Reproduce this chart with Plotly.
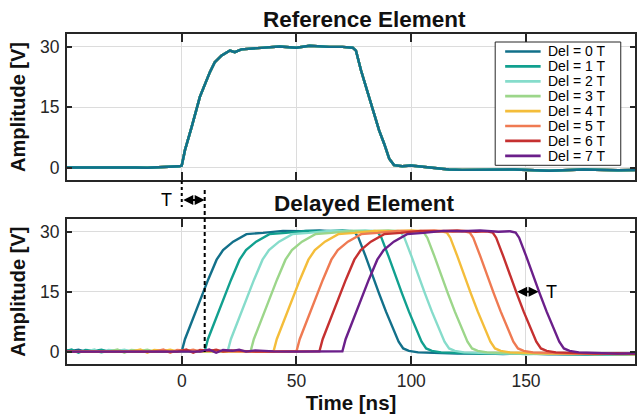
import plotly.graph_objects as go

# ---------------- data ----------------
series_labels = ["Del = 0 T", "Del = 1 T", "Del = 2 T", "Del = 3 T",
                 "Del = 4 T", "Del = 5 T", "Del = 6 T", "Del = 7 T"]
series_colors = ["#12708a", "#11a08f", "#86dccb", "#9cd68a",
                 "#f4bd3a", "#ef7a52", "#c53030", "#6b1f8a"]
delays_ns = [0, 10, 20, 30, 40, 50, 60, 70]

# reference element waveform (time ns, amplitude V)
ref_t = [-50, -40, -30, -20, -15, -10, -5, -1, 0, 1.4, 4.3, 7.9, 10.8, 12.3, 14.4, 17.4,
         21, 23.1, 26, 32.5, 42.6, 49.9, 55.7, 64.3, 70, 74.5, 75.9, 78.1, 80.3, 83.1,
         86, 88.2, 90.4, 92.5, 96.1, 99.8, 107.7, 116.4, 122.2, 133.8, 145, 160, 175,
         190, 200]
ref_amp = [0.0, 0.05, 0.05, 0.0, -0.05, 0.05, 0.1, 0.3, 0.5, 4.3, 10.0, 17.5, 21.6, 23.7,
           26.1, 27.8, 29.0, 28.6, 29.3, 29.6, 30.0, 29.7, 30.2, 29.9, 29.9, 29.7, 29.0,
           24.1, 20.0, 15.0, 9.2, 5.9, 2.2, 0.6, 0.3, 0.5, 0.0, -0.5, -0.6, -0.6, -0.5,
           -0.8, -0.5, -0.7, -0.6]

# delayed element waveform for zero delay (time ns, amplitude V)
del_t = [-120, -100, -80, -62, -58, -55, -52, -48, -45, -42, -38, -30, -20, -10, -3, 0,
         1.4, 3.6, 6.5, 8.7, 11.5, 15.2, 18, 22.4, 28.2, 35.4, 44.1, 52, 60, 68, 73,
         75.5, 77, 80, 83, 86, 89, 92, 94.5, 96.5, 99, 103, 110, 120, 130, 140, 150,
         160, 170, 180, 190, 200]
del_amp = [0.0, 0.05, -0.05, 0.0, 0.5, -0.3, 0.4, 0.2, 0.5, 0.0, 0.3, 0.05, 0.0, 0.05,
           0.0, 0.1, 3.1, 6.4, 10.5, 13.8, 18.0, 23.0, 25.4, 27.5, 29.4, 29.7, 30.2, 30.1,
           30.3, 30.0, 30.1, 29.8, 28.5, 24.0, 19.0, 14.5, 10.0, 6.0, 2.5, 0.8, 0.2,
           -0.2, -0.3, -0.5, -0.4, -0.6, -0.5, -0.7, -0.6, -0.8, -0.7, -0.8]

x_ticks = [0, 50, 100, 150]
y_ticks = [0, 15, 30]
x_range = [-50, 197.5]
y_range = [-3.1, 33.1]

# ---------------- layout helpers ----------------
W, H = 639, 416
ML, MR, MT, MB = 67, 2, 34, 52
PW, PH = W - ML - MR, H - MT - MB
FONT = "Liberation Sans, Arial, sans-serif"
INK = "#262626"


def px(X):
    return (X - ML) / PW


def py(Y):
    return (H - MB - Y) / PH


fig = go.Figure()

# top panel: reference element (drawn so Del = 0 ends on top)
for i in reversed(range(len(series_labels))):
    fig.add_trace(go.Scatter(x=ref_t, y=ref_amp, mode="lines", name=series_labels[i],
                             line=dict(color=series_colors[i], width=2.4),
                             xaxis="x", yaxis="y", showlegend=False))

# bottom panel: delayed element
for i in range(len(series_labels)):
    fig.add_trace(go.Scatter(x=[t + delays_ns[i] for t in del_t], y=del_amp, mode="lines",
                             name=series_labels[i],
                             line=dict(color=series_colors[i], width=2.4),
                             xaxis="x2", yaxis="y2", showlegend=False))

axis_common = dict(showline=True, linecolor=INK, linewidth=2, mirror="allticks",
                   ticks="inside", tickcolor=INK, tickwidth=1.5, showgrid=True,
                   gridcolor="#dcdcdc", gridwidth=1, zeroline=False,
                   tickfont=dict(family=FONT, size=17.5, color=INK))

ytitle_font = dict(family=FONT, size=20, color="#111111")
xtitle_font = dict(family=FONT, size=20.5, color="#111111")

fig.update_layout(
    width=W, height=H, margin=dict(l=ML, r=MR, t=MT, b=MB),
    paper_bgcolor="white", plot_bgcolor="white", showlegend=False,
    xaxis=dict(axis_common, range=x_range, tickvals=x_ticks, ticklen=8, domain=[0, 1],
               anchor="y", showticklabels=False),
    yaxis=dict(axis_common, range=y_range, tickvals=y_ticks, ticklen=5,
               domain=[py(180), 1], anchor="x", ticklabelstandoff=2,
               title=dict(text="<b>Amplitude [V]</b>", font=ytitle_font, standoff=9)),
    xaxis2=dict(axis_common, range=x_range, tickvals=x_ticks, ticklen=8, domain=[0, 1],
                anchor="y2",
                title=dict(text="<b>Time [ns]</b>", font=xtitle_font, standoff=3)),
    yaxis2=dict(axis_common, range=y_range, tickvals=y_ticks, ticklen=5,
                domain=[0, py(219.3)], anchor="x2", ticklabelstandoff=2,
                title=dict(text="<b>Amplitude [V]</b>", font=ytitle_font, standoff=9)),
)

annotations = []
shapes = []

# panel titles
annotations.append(dict(text="<b>Reference Element</b>", xref="paper", yref="paper",
                        x=px(366), y=py(19.5), xanchor="center", yanchor="middle",
                        showarrow=False, font=dict(family=FONT, size=22.5, color="#111111")))
annotations.append(dict(text="<b>Delayed Element</b>", xref="paper", yref="paper",
                        x=px(366), y=py(203), xanchor="center", yanchor="middle",
                        showarrow=False, font=dict(family=FONT, size=22.5, color="#111111")))

# T markers between panels
shapes.append(dict(type="line", xref="x2", yref="paper", x0=0, x1=0,
                   y0=py(181), y1=py(207), line=dict(color="black", width=2, dash="3px,3px")))
shapes.append(dict(type="line", xref="x2", yref="paper", x0=delays_ns[1], x1=delays_ns[1],
                   y0=py(190), y1=py(352), line=dict(color="black", width=2, dash="4px,3px")))
annotations.append(dict(text="", xref="x2", yref="paper", x=delays_ns[1], y=py(200),
                        axref="x2", ax=0, ayref="pixel", ay=0, showarrow=True,
                        arrowhead=2, arrowside="end+start", arrowsize=1, arrowwidth=2,
                        arrowcolor="black", standoff=0, startstandoff=0))
annotations.append(dict(text="T", xref="x2", yref="paper", x=-6.5, y=py(200),
                        xanchor="center", yanchor="middle", showarrow=False,
                        font=dict(family=FONT, size=18, color="black")))

# T marker on falling edges
annotations.append(dict(text="", xref="x2", yref="y2", x=155.5, y=15,
                        axref="x2", ax=145.5, ayref="y2", ay=15, showarrow=True,
                        arrowhead=2, arrowside="end+start", arrowsize=1, arrowwidth=2,
                        arrowcolor="black", standoff=0, startstandoff=0))
annotations.append(dict(text="T", xref="x2", yref="y2", x=161, y=15,
                        xanchor="center", yanchor="middle", showarrow=False,
                        font=dict(family=FONT, size=18, color="black")))

# legend (drawn manually to match compact spacing)
ROW = 14.9
PAD = 9.5
LX0, LX1, LY0 = 496.7, 622.7, 42.0
LY1 = LY0 + PAD + ROW * (len(series_labels) - 1) + PAD
shapes.append(dict(type="rect", xref="paper", yref="paper", x0=px(LX0), x1=px(LX1),
                   y0=py(LY1), y1=py(LY0), line=dict(color=INK, width=1),
                   fillcolor="white", layer="above"))
for i, (lab, col) in enumerate(zip(series_labels, series_colors)):
    yy = LY0 + PAD + ROW * i
    shapes.append(dict(type="line", xref="paper", yref="paper", x0=px(506.7), x1=px(542.3),
                       y0=py(yy), y1=py(yy), line=dict(color=col, width=2.7), layer="above"))
    annotations.append(dict(text=lab, xref="paper", yref="paper", x=px(549), y=py(yy),
                            xanchor="left", yanchor="middle", showarrow=False,
                            borderpad=0, height=14,
                            font=dict(family=FONT, size=14, color="black")))

fig.update_layout(annotations=annotations, shapes=shapes)
fig.write_html("out.html")
